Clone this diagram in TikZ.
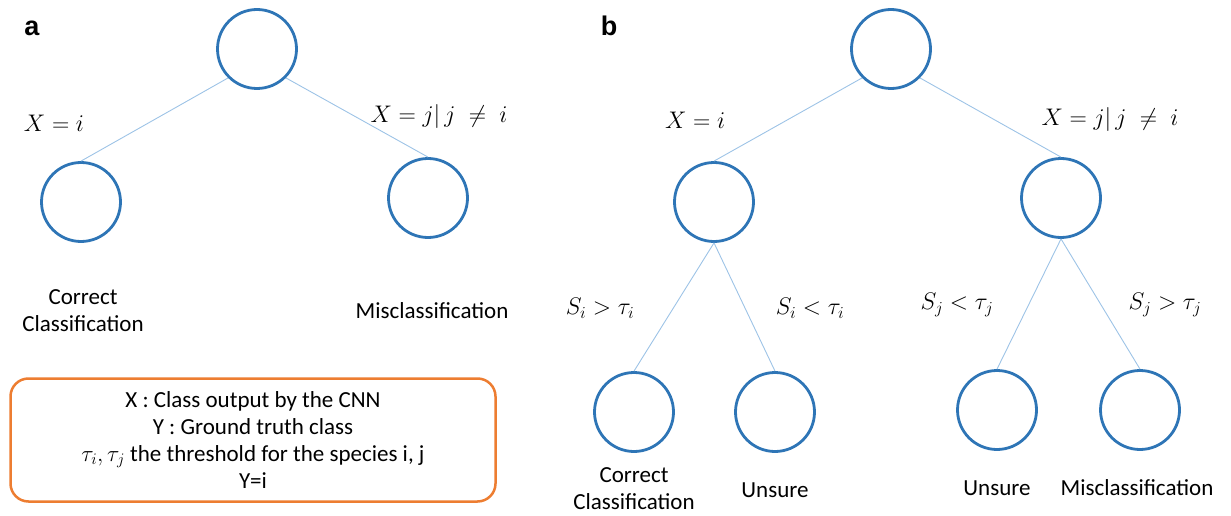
\documentclass[tikz,border=0pt]{standalone}
\usepackage{fontspec}
\usepackage{fix-cm}
\setmainfont{Carlito}
\newfontfamily\panelfont{Liberation Sans}
\definecolor{nodeblue}{HTML}{2E75B6}
\definecolor{edgeblue}{HTML}{9DC3E6}
\definecolor{boxorange}{HTML}{ED7D31}
\tikzset{
  treenode/.style={circle, draw=nodeblue, line width=2.8pt, minimum size=79pt, inner sep=0pt},
  branch/.style={draw=edgeblue, line width=0.9pt},
  leaflabel/.style={font=\fontsize{23}{27}\selectfont, align=center},
  condlabel/.style={font=\fontsize{24}{28}\selectfont},
  panellabel/.style={font=\panelfont\bfseries\fontsize{27}{30}\selectfont, anchor=base},
  legendbox/.style={draw=boxorange, line width=2.5pt, rounded corners=18pt,
    minimum width=485pt, minimum height=123pt, align=center,
    font=\fontsize{23}{27}\selectfont},
}
\begin{document}
\begin{tikzpicture}[x=1pt,y=-1pt] %a and b
            \useasboundingbox (0,0) rectangle (1231,516);

            % panel a
            \node[panellabel] (pa) at (32,36) {a};
            \node[treenode] (ra) at (257,49) {};
            \node[treenode] (ia) at (81,202) {};
            \node[treenode] (ja) at (428,198) {};
            \draw[branch] (ra.-135) -- (ia.north);
            \draw[branch] (ra.-45) -- (ja.north);
            \node[condlabel] (xia) at (54,123) {$X = i$};
            \node[condlabel] (xja) at (439,117) {$X = j|\, j \;\neq\; i$};
            \node[leaflabel] (cca) at (83,311) {Correct\\Classification};
            \node[leaflabel] (mca) at (432,311) {Misclassification};

            % legend
            \node[legendbox] (key) at (253,440) {X : Class output by the CNN\\Y : Ground truth class\\$\tau_i, \tau_j$ the threshold for the species i, j\\Y=i};

            % panel b
            \node[panellabel] (pb) at (609,36) {b};
            \node[treenode] (rb) at (891,49) {};
            \node[treenode] (ib) at (714,202) {};
            \node[treenode] (jb) at (1061,198) {};
            \node[treenode] (ib1) at (634,412) {};
            \node[treenode] (ib2) at (775,412) {};
            \node[treenode] (jb1) at (997,410) {};
            \node[treenode] (jb2) at (1140,410) {};
            \draw[branch] (rb.-135) -- (ib.north);
            \draw[branch] (rb.-45) -- (jb.north);
            \draw[branch] (ib.south) -- (ib1.north);
            \draw[branch] (ib.south) -- (ib2.north);
            \draw[branch] (jb.south) -- (jb1.north);
            \draw[branch] (jb.south) -- (jb2.north);
            \node[condlabel] (xib) at (695,120) {$X = i$};
            \node[condlabel] (xjb) at (1110,120) {$X = j|\, j \;\neq\; i$};
            \node[condlabel] (sib1) at (600,308) {$S_i > \tau_i$};
            \node[condlabel] (sib2) at (810,308) {$S_i < \tau_i$};
            \node[condlabel] (sjb1) at (957,305) {$S_j < \tau_j$};
            \node[condlabel] (sjb2) at (1165,305) {$S_j > \tau_j$};
            \node[leaflabel] (ccb) at (634,489) {Correct\\Classification};
            \node[leaflabel] (usb1) at (775,490) {Unsure};
            \node[leaflabel] (usb2) at (997,488) {Unsure};
            \node[leaflabel] (mcb) at (1137,488) {Misclassification};
        \end{tikzpicture}
\end{document}
